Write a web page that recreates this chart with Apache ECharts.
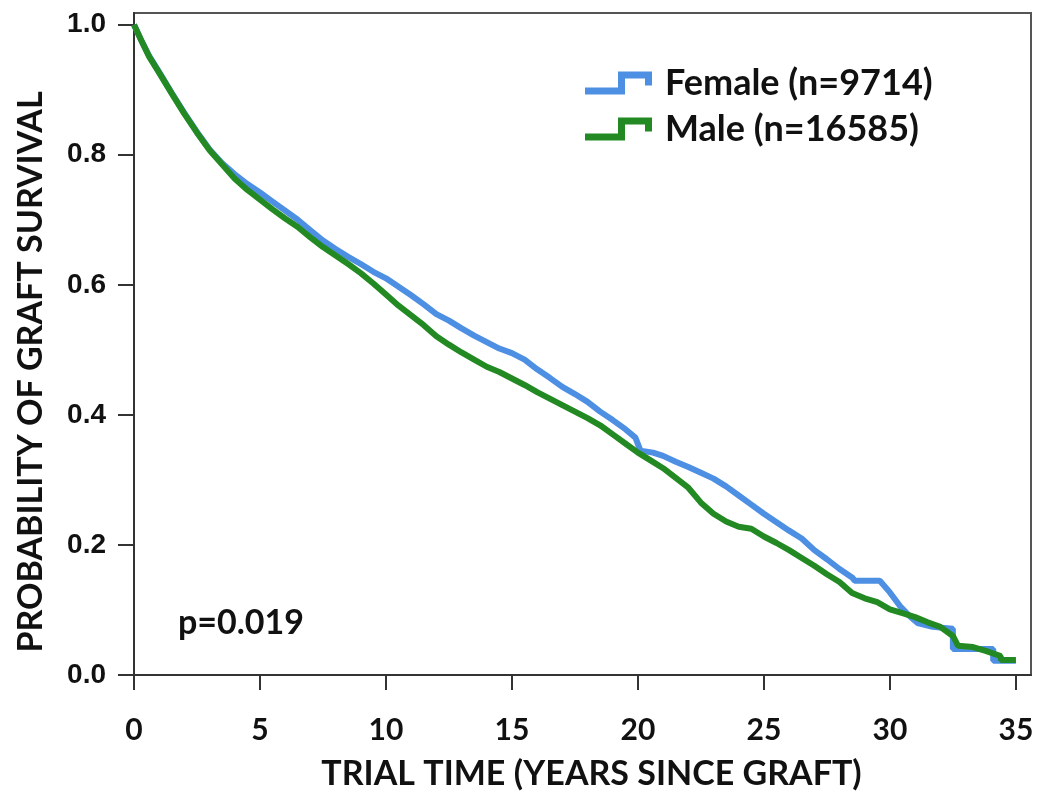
<!DOCTYPE html>
<html>
<head>
<meta charset="utf-8">
<script src="https://cdn.jsdelivr.net/npm/echarts@6/dist/echarts.min.js"></script>
<style>
html,body{margin:0;padding:0;background:#fff;}
#chart{width:1038px;height:796px;}
</style>
</head>
<body>
<div id="chart"></div>
<script>
// ---- data ----
var seriesNames = ['Female (n=9714)', 'Male (n=16585)'];
var xTicks = [0, 5, 10, 15, 20, 25, 30, 35];
var yTicks = [0, 0.2, 0.4, 0.6, 0.8, 1.0];
var pValueText = 'p=0.019';
var xTitle = 'TRIAL TIME (YEARS SINCE GRAFT)';
var yTitle = 'PROBABILITY OF GRAFT SURVIVAL';

// [years, survival probability]
var femaleCurve = [
  [0,1.0],[0.3,0.975],[0.6,0.952],[1.0,0.927],[1.5,0.895],[2.0,0.864],[2.5,0.835],
  [3.0,0.808],[3.5,0.787],[4.0,0.770],[4.5,0.755],[5.0,0.742],[5.5,0.728],[6.0,0.714],
  [6.5,0.700],[7.0,0.684],[7.5,0.668],[8.0,0.655],[8.5,0.643],[9.0,0.632],[9.5,0.620],
  [10.0,0.610],[10.5,0.597],[11.0,0.584],[11.5,0.570],[12.0,0.555],[12.5,0.545],
  [13.0,0.533],[13.5,0.522],[14.0,0.512],[14.5,0.502],[15.0,0.495],[15.5,0.485],
  [16.0,0.470],[16.5,0.457],[17.0,0.443],[17.5,0.432],[18.0,0.420],[18.5,0.405],
  [19.0,0.392],[19.5,0.378],[19.9,0.365],[20.1,0.345],[20.6,0.342],[21.0,0.337],
  [21.5,0.328],[22.0,0.320],[22.5,0.311],[23.0,0.302],[23.5,0.290],[24.0,0.276],
  [24.5,0.262],[25.0,0.248],[25.5,0.235],[26.0,0.222],[26.5,0.210],[27.0,0.192],
  [27.5,0.178],[28.0,0.163],[28.5,0.150],[28.6,0.145],[29.6,0.145],[30.0,0.127],
  [30.4,0.106],[30.8,0.090],[31.1,0.080],[31.7,0.074],[32.5,0.071],[32.5,0.040],
  [34.1,0.040],[34.1,0.022],[35.0,0.022]
];
var maleCurve = [
  [0,1.0],[0.3,0.975],[0.6,0.951],[1.0,0.926],[1.5,0.894],[2.0,0.863],[2.5,0.834],
  [3.0,0.807],[3.5,0.785],[4.0,0.763],[4.5,0.746],[5.0,0.731],[5.5,0.716],[6.0,0.702],
  [6.5,0.689],[7.0,0.673],[7.5,0.658],[8.0,0.645],[8.5,0.632],[9.0,0.618],[9.5,0.602],
  [10.0,0.585],[10.5,0.568],[11.0,0.553],[11.5,0.538],[12.0,0.521],[12.5,0.508],
  [13.0,0.496],[13.5,0.485],[14.0,0.474],[14.5,0.466],[15.0,0.456],[15.5,0.446],
  [16.0,0.435],[16.5,0.425],[17.0,0.415],[17.5,0.405],[18.0,0.395],[18.5,0.384],
  [19.0,0.370],[19.5,0.356],[20.0,0.342],[20.5,0.330],[21.0,0.318],[21.5,0.303],
  [22.0,0.288],[22.5,0.265],[23.0,0.248],[23.5,0.236],[24.0,0.228],[24.5,0.225],
  [25.0,0.213],[25.5,0.203],[26.0,0.192],[26.5,0.180],[27.0,0.168],[27.5,0.155],
  [28.0,0.143],[28.5,0.126],[29.0,0.118],[29.5,0.112],[30.0,0.101],[30.5,0.095],
  [31.0,0.089],[31.5,0.081],[32.0,0.074],[32.5,0.060],[32.7,0.045],[33.3,0.043],
  [33.8,0.037],[34.4,0.029],[34.4,0.023],[35.0,0.023]
];

// ---- chart ----
var colors = ['#4d8fe3', '#238a23'];
var titleFont = 'Lato, "Open Sans", sans-serif';
var stepIcon = 'path://M0,16 L33,16 L33,0 L67,0 L67,14 L60,14 L60,7 L40,7 L40,23 L0,23 Z';

var chart = echarts.init(document.getElementById('chart'), null, {renderer: 'canvas'});
chart.setOption({
  animation: false,
  backgroundColor: '#ffffff',
  color: colors,
  grid: {
    left: 134, top: 13, right: 7, bottom: 120,
    show: true, borderColor: '#555', borderWidth: 2, backgroundColor: 'transparent'
  },
  legend: {
    orient: 'vertical',
    left: 580, top: 58,
    icon: stepIcon,
    itemWidth: 67, itemHeight: 23,
    itemGap: 6,
    data: seriesNames,
    textStyle: {fontFamily: titleFont, fontWeight: 'bold', fontSize: 36, color: '#111', lineHeight: 40, padding: [0,0,0,8]}
  },
  xAxis: {
    type: 'value', min: 0, max: 35.6,
    name: xTitle, nameLocation: 'middle', nameGap: 82,
    nameTextStyle: {fontFamily: titleFont, fontWeight: 'bold', fontSize: 34, color: '#111', padding: [0,0,0,18]},
    axisLine: {show: true, onZero: false, lineStyle: {color: '#333', width: 2}},
    axisTick: {show: true, inside: false, length: 15, customValues: xTicks, lineStyle: {color: '#333', width: 2}},
    axisLabel: {customValues: xTicks, margin: 40, fontFamily: titleFont, fontWeight: 'bold', fontSize: 30, color: '#111'},
    splitLine: {show: false}
  },
  yAxis: {
    type: 'value', min: 0, max: 1.018,
    name: yTitle, nameLocation: 'middle', nameGap: 86, nameRotate: 90,
    nameTextStyle: {fontFamily: titleFont, fontWeight: 'bold', fontSize: 34, color: '#111', padding: [0,56,0,0]},
    axisLine: {show: true, onZero: false, lineStyle: {color: '#333', width: 2}},
    axisTick: {show: true, inside: false, length: 16, customValues: yTicks, lineStyle: {color: '#333', width: 2}},
    axisLabel: {customValues: yTicks, margin: 28, fontFamily: '"Liberation Sans", Arial, sans-serif', fontWeight: 'bold', fontSize: 28, color: '#111',
      formatter: function (v) { return v.toFixed(1); }},
    splitLine: {show: false}
  },
  graphic: [{
    type: 'text', left: 178, top: 606,
    style: {text: pValueText, font: 'bold 34px ' + titleFont, fill: '#111'}
  }],
  series: [
    {name: seriesNames[0], type: 'line', data: femaleCurve, showSymbol: false, symbol: 'none',
     lineStyle: {width: 6, color: colors[0]}, itemStyle: {color: colors[0]}, z: 2},
    {name: seriesNames[1], type: 'line', data: maleCurve, showSymbol: false, symbol: 'none',
     lineStyle: {width: 6, color: colors[1]}, itemStyle: {color: colors[1]}, z: 3}
  ]
});
</script>
</body>
</html>
